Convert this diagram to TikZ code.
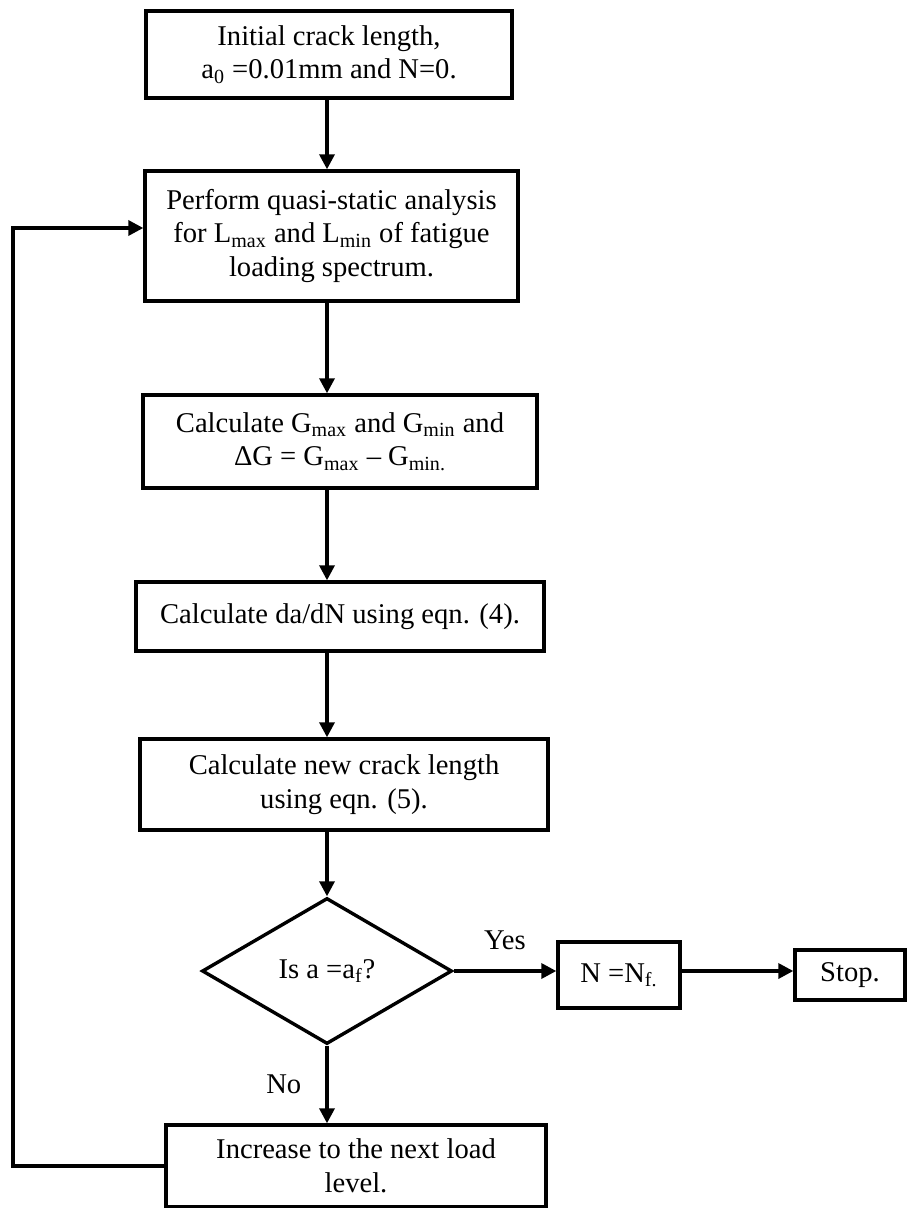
\documentclass[tikz,border=0pt]{standalone}
\usepackage{fontspec}
\setmainfont{Liberation Serif}
\usetikzlibrary{arrows.meta,shapes.geometric}

\begin{document}
\begin{tikzpicture}[x=0.5pt,y=-0.5pt,every node/.style={font=\fontsize{14.3}{16.8}\selectfont,align=center,inner sep=0pt},procbox/.style={draw,line width=1.7pt,rectangle},decide/.style={draw,line width=1.7pt,diamond,minimum width=125pt,minimum height=73pt},flow/.style={line width=1.7pt,-{Triangle[length=7.5pt,width=7.5pt]}}]
\useasboundingbox (0,0) rectangle (908,1208);

\node[procbox,minimum width=183pt,minimum height=43.5pt] (init) at (329,54.5) {Initial crack length,\\a\textsubscript{0} =0.01mm and N=0.};
\node[procbox,minimum width=186.5pt,minimum height=65pt] (quasi) at (331.5,236) {Perform quasi-static analysis\\for L\textsubscript{max} and L\textsubscript{min} of fatigue\\loading spectrum.};
\node[procbox,minimum width=197pt,minimum height=46.5pt] (gcalc) at (340,441.5) {Calculate G\textsubscript{max} and G\textsubscript{min} and\\ΔG = G\textsubscript{max} – G\textsubscript{min.}};
\node[procbox,minimum width=204pt,minimum height=34.5pt] (rate) at (340,616.5) {Calculate da/dN using eqn. (4).};
\node[procbox,minimum width=204pt,minimum height=45.5pt] (newlen) at (344,784.5) {Calculate new crack length\\using eqn. (5).};
\node[decide] (check) at (327,971) {Is a =a\textsubscript{f}?};
\node[procbox,minimum width=61pt,minimum height=33pt] (nf) at (619,975) {N =N\textsubscript{f.}};
\node[procbox,minimum width=55pt,minimum height=25pt] (stop) at (850,975) {Stop.};
\node[procbox,minimum width=190pt,minimum height=41pt] (incr) at (356,1166) {Increase to the next load\\level.};
\coordinate (ret) at (13,228);

\draw[flow] (init.south -| check) -- (quasi.north -| check);
\draw[flow] (quasi.south -| check) -- (gcalc.north -| check);
\draw[flow] (gcalc.south -| check) -- (rate.north -| check);
\draw[flow] (rate.south -| check) -- (newlen.north -| check);
\draw[flow] (newlen.south -| check) -- (check.north);
\draw[flow] (check.east) -- (nf.west |- check.east) node[midway,above=10pt] {Yes};
\draw[flow] (nf.east |- check.east) -- (stop.west |- check.east);
\draw[flow] (check.south) -- (incr.north -| check) node[midway,left=12pt] {No};
\draw[flow] (incr.west) -| (ret) -- (ret -| quasi.west);
\end{tikzpicture}
\end{document}
